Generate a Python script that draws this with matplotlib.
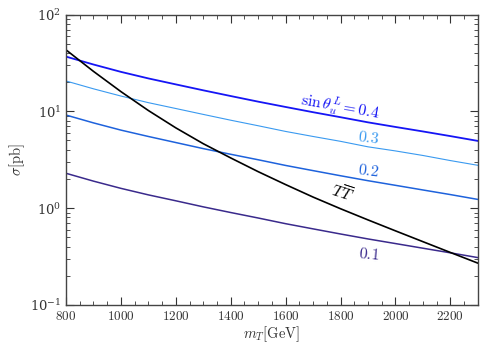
import matplotlib
matplotlib.use("Agg")
import matplotlib.pyplot as plt
from matplotlib.ticker import FixedLocator, FuncFormatter, LogLocator, MultipleLocator

plt.rcParams['mathtext.fontset'] = 'cm'
plt.rcParams['font.family'] = ['DejaVu Serif']

mass = [800, 900, 1000, 1100, 1200, 1300, 1400, 1500, 1600, 1700, 1800, 1900, 2000, 2100, 2200, 2300]
sigma_04 = [36.8, 30.5, 25.6, 21.9, 19.0, 16.5, 14.4, 12.6, 11.1, 9.8, 8.7, 7.7, 6.9, 6.2, 5.55, 4.95]
sigma_03 = [20.6, 17.1, 14.4, 12.3, 10.7, 9.3, 8.1, 7.1, 6.2, 5.5, 4.9, 4.3, 3.9, 3.5, 3.1, 2.77]
sigma_02 = [9.16, 7.6, 6.4, 5.5, 4.76, 4.12, 3.6, 3.16, 2.76, 2.44, 2.16, 1.92, 1.72, 1.54, 1.38, 1.23]
sigma_01 = [2.29, 1.9, 1.6, 1.37, 1.19, 1.03, 0.90, 0.79, 0.69, 0.61, 0.54, 0.48, 0.43, 0.385, 0.345, 0.308]
sigma_TT = [43.2, 25.9, 16.0, 10.2, 6.75, 4.63, 3.30, 2.38, 1.75, 1.30, 0.985, 0.755, 0.582, 0.450, 0.348, 0.270]

xticks = [800, 1000, 1200, 1400, 1600, 1800, 2000, 2200]

fig = plt.figure(figsize=(5.04, 3.48), dpi=100)
ax = fig.add_axes([0.131, 0.124, 0.817, 0.834])

ax.plot(mass, sigma_04, color='#1515f5', lw=1.3)
ax.plot(mass, sigma_03, color='#3a9af0', lw=0.8)
ax.plot(mass, sigma_02, color='#1e62dc', lw=1.1)
ax.plot(mass, sigma_01, color='#3a2a8c', lw=1.1)
ax.plot(mass, sigma_TT, color='black', lw=1.2)

ax.set_yscale('log')
ax.set_xlim(800, 2300)
ax.set_ylim(0.1, 100)

ax.xaxis.set_major_locator(FixedLocator(xticks))
ax.xaxis.set_minor_locator(MultipleLocator(50))
ax.xaxis.set_major_formatter(FuncFormatter(lambda v, p: r'$%d$' % v))
ax.yaxis.set_major_locator(LogLocator(base=10, numticks=10))
ax.yaxis.set_minor_locator(LogLocator(base=10, subs=range(2, 10), numticks=20))
ax.tick_params(which='both', direction='in', top=True, right=True, labelsize=9.5, colors='#333333')
ax.tick_params(which='major', length=6, width=0.8)
ax.tick_params(which='minor', length=3, width=0.6)
for s in ax.spines.values():
    s.set_color('#444444')
    s.set_linewidth(1.0)

ax.set_xlabel(r'$m_T[\mathrm{GeV}]$', fontsize=10.5, labelpad=1, color='#333333')
ax.set_ylabel(r'$\sigma[\mathrm{pb}]$', fontsize=10.5, labelpad=2, color='#333333')

ax.text(1798, 11.0, r'$\sin\theta_u^L = \mathit{0.4}$', color='#1515f5', fontsize=11.5,
        rotation=-10, ha='center', va='center', rotation_mode='anchor')
ax.text(1903, 5.3, r'$\mathit{0.3}$', color='#3a9af0', fontsize=11.5, rotation=-7, ha='center', va='center')
ax.text(1903, 2.42, r'$\mathit{0.2}$', color='#1e62dc', fontsize=11.5, rotation=-7, ha='center', va='center')
ax.text(1903, 0.33, r'$\mathit{0.1}$', color='#3a2a8c', fontsize=11.5, rotation=-5, ha='center', va='center')
ax.text(1804, 1.38, r'$T\overline{T}$', color='black', fontsize=11.5, rotation=-18, ha='center', va='center')

fig.savefig('out.png', dpi=100)
